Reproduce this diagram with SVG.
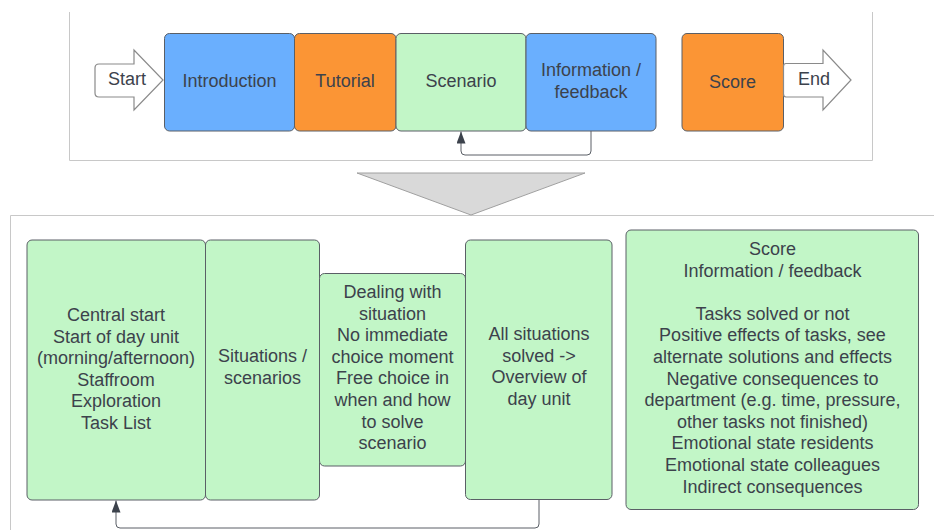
<svg xmlns="http://www.w3.org/2000/svg" width="934" height="530" viewBox="0 0 934 530">
<defs>
<style>
.t{font-family:"Liberation Sans",Arial,sans-serif;font-size:18px;fill:#3c424c;text-anchor:middle}
.blue{fill:#6aaffe;stroke:#5a5f66;stroke-width:1}
.orange{fill:#fb9535;stroke:#5a5f66;stroke-width:1}
.green{fill:#c2f6c7;stroke:#5a5f66;stroke-width:1}
.frame{fill:none;stroke:#c8c8c8;stroke-width:1}
.arr{fill:#ffffff;stroke:#8a8a8a;stroke-width:1.2}
.conn{fill:none;stroke:#5a5f66;stroke-width:1}
</style>
<marker id="ah" markerWidth="12" markerHeight="9" refX="12" refY="4.5" orient="auto" markerUnits="userSpaceOnUse" viewBox="0 0 12 9">
<path d="M0,0 L12,4.5 L0,9 Z" fill="#3c424c"/>
</marker>
</defs>
<rect width="934" height="530" fill="#ffffff"/>
<g id="frames">
<path class="frame" d="M69.5,12 V160.5 H872.5 V12"/>
<path class="frame" d="M10.5,530 V215.5 H934"/>
</g>
<g id="transition">
<path d="M357,173 H585 L471,215 Z" fill="#d9d9d9" stroke="#a0a0a0" stroke-width="1"/>
</g>
<g id="connectors">
<path class="conn" d="M591,131 V151 Q591,155 587,155 H465 Q461,155 461,151 V131.5" marker-end="url(#ah)"/>
<path class="conn" d="M539,500 V524 Q539,528 535,528 H120 Q116,528 116,524 V500.5" marker-end="url(#ah)"/>
</g>
<g id="start">
<path class="arr" d="M99,64 H134 V50 L163,80 L134,110 V97 H99 Q95,97 95,93 V68 Q95,64 99,64 Z"/>
<text class="t" x="127" y="85">Start</text>
</g>
<g id="introduction">
<rect class="blue" x="164.5" y="33.5" width="130" height="97.5" rx="5"/>
<text class="t" x="229.5" y="87">Introduction</text>
</g>
<g id="tutorial">
<rect class="orange" x="294.5" y="33.5" width="101.5" height="97.5" rx="5"/>
<text class="t" x="345" y="87">Tutorial</text>
</g>
<g id="scenario">
<rect class="green" x="396" y="33.5" width="130" height="97.5" rx="5"/>
<text class="t" x="461" y="87">Scenario</text>
</g>
<g id="information">
<rect class="blue" x="526" y="33.5" width="130" height="97.5" rx="5"/>
<text class="t" x="591" y="76">Information /</text>
<text class="t" x="591" y="97.5">feedback</text>
</g>
<g id="score">
<rect class="orange" x="682" y="33.5" width="101.5" height="97.5" rx="5"/>
<text class="t" x="732.5" y="88">Score</text>
</g>
<g id="end">
<path class="arr" d="M786,63.5 H823 V50 L851,80 L823,110 V97 H786 Q783.5,97 783.5,94 V66.5 Q783.5,63.5 786,63.5 Z"/>
<text class="t" x="814" y="84.5">End</text>
</g>
<g id="central-start">
<rect class="green" x="27" y="240" width="178.5" height="260" rx="5"/>
<text class="t" x="116" y="321">Central start</text>
<text class="t" x="116" y="342.6">Start of day unit</text>
<text class="t" x="116" y="364.2">(morning/afternoon)</text>
<text class="t" x="116" y="385.8">Staffroom</text>
<text class="t" x="116" y="407.4">Exploration</text>
<text class="t" x="116" y="429">Task List</text>
</g>
<g id="situations">
<rect class="green" x="205.5" y="240" width="114" height="260" rx="5"/>
<text class="t" x="262.5" y="362">Situations /</text>
<text class="t" x="262.5" y="383.6">scenarios</text>
</g>
<g id="dealing">
<rect class="green" x="319.5" y="273.5" width="146" height="192.5" rx="5"/>
<text class="t" x="392.5" y="298">Dealing with</text>
<text class="t" x="392.5" y="319.6">situation</text>
<text class="t" x="392.5" y="341.2">No immediate</text>
<text class="t" x="392.5" y="362.8">choice moment</text>
<text class="t" x="392.5" y="384.4">Free choice in</text>
<text class="t" x="392.5" y="406">when and how</text>
<text class="t" x="392.5" y="427.6">to solve</text>
<text class="t" x="392.5" y="449.2">scenario</text>
</g>
<g id="all-situations">
<rect class="green" x="465.5" y="240" width="146.5" height="259.5" rx="5"/>
<text class="t" x="539" y="340">All situations</text>
<text class="t" x="539" y="361.6">solved -&gt;</text>
<text class="t" x="539" y="383.2">Overview of</text>
<text class="t" x="539" y="404.8">day unit</text>
</g>
<g id="score-feedback">
<rect class="green" x="626" y="230" width="292.5" height="279.5" rx="5"/>
<text class="t" x="772.5" y="255">Score</text>
<text class="t" x="772.5" y="276.6">Information / feedback</text>
<text class="t" x="772.5" y="319.8">Tasks solved or not</text>
<text class="t" x="772.5" y="341.4">Positive effects of tasks, see</text>
<text class="t" x="772.5" y="363">alternate solutions and effects</text>
<text class="t" x="772.5" y="384.6">Negative consequences to</text>
<text class="t" x="772.5" y="406.2">department (e.g. time, pressure,</text>
<text class="t" x="772.5" y="427.8">other tasks not finished)</text>
<text class="t" x="772.5" y="449.4">Emotional state residents</text>
<text class="t" x="772.5" y="471">Emotional state colleagues</text>
<text class="t" x="772.5" y="492.6">Indirect consequences</text>
</g>
</svg>
